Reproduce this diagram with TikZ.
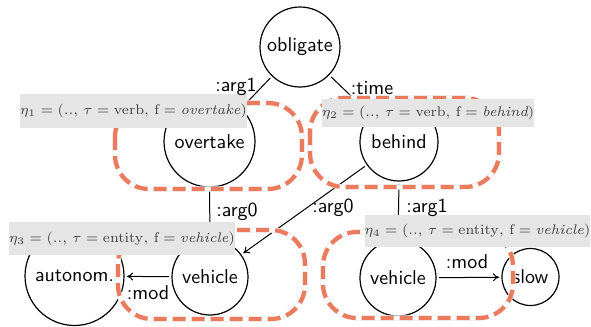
\documentclass[tikz,border=0pt]{standalone}
\usetikzlibrary{arrows.meta}
\definecolor{coral}{RGB}{236,122,92}
\begin{document}
\begin{tikzpicture}[x=0.5pt,y=-0.5pt,
  concept/.style={circle,draw,line width=0.6pt,inner sep=0pt,outer sep=1.5pt,font=\sffamily},
  rel/.style={->,line width=0.5pt,>={To[length=3pt,width=4pt]}},
  elabel/.style={font=\sffamily,inner sep=0pt},
  infobox/.style={fill=black!10,inner sep=0pt,font=\fontsize{7}{8}\selectfont,text=black!75},
  halo/.style={line width=2.7pt,draw=black!8,rounded corners=17pt},
  haloin/.style={line width=2.1pt,draw=white,rounded corners=17pt},
  region/.style={line width=2.1pt,draw=coral,dash pattern=on 6.5pt off 3pt,rounded corners=17pt}]
\useasboundingbox (0,0) rectangle (591,327);
% concept nodes
\node[concept,minimum size=40pt] (obl) at (300,47) {obligate};
\node[concept,minimum size=45.5pt] (ovt) at (209.5,141.5) {overtake};
\node[concept,minimum size=39pt] (beh) at (399,142) {behind};
\node[concept,minimum size=49.5pt] (aut) at (74.5,276) {autonom.};
\node[concept,minimum size=38pt] (vehL) at (210,277) {vehicle};
\node[concept,minimum size=38pt] (vehR) at (398,278) {vehicle};
\node[concept,minimum size=28.5pt] (slow) at (530.5,277) {slow};
% relations
\draw[rel] (obl) -- (ovt);
\draw[rel] (obl) -- (beh);
\draw[rel] (ovt.south) -- (vehL.north);
\draw[rel] (beh) -- (vehL);
\draw[rel] (beh.south) -- (vehR.north);
\draw[rel] (vehL) -- (aut);
\draw[rel] (vehR) -- (slow);
% dashed regions
\foreach \a/\b in {{115,103}/{302,189},{310,98}/{499,187},{118,230}/{305,319},{323,232}/{513,318}}{
  \draw[halo] (\a) rectangle (\b);
  \draw[haloin] (\a) rectangle (\b);
  \draw[region] (\a) rectangle (\b);
}
% info boxes
\node[infobox,minimum width=111.5pt,minimum height=17pt] (e1) at (133.5,111)
  {$\eta_1 = (..,\,\tau = \mathrm{verb},\,\mathrm{f} = \textit{overtake})$};
\node[infobox,minimum width=105pt,minimum height=14pt] (e2) at (428,113)
  {$\eta_2 = (..,\,\tau = \mathrm{verb},\,\mathrm{f} = \textit{behind})$};
\node[infobox,minimum width=111pt,minimum height=16.5pt] (e3) at (122,238.5)
  {$\eta_3 = (..,\,\tau = \mathrm{entity},\,\mathrm{f} = \textit{vehicle})$};
\node[infobox,minimum width=109.5pt,minimum height=16pt] (e4) at (477.5,231)
  {$\eta_4 = (..,\,\tau = \mathrm{entity},\,\mathrm{f} = \textit{vehicle})$};
% edge labels
\node[elabel] (l1) at (236,87) {:arg1};
\node[elabel] (l2) at (372,88) {:time};
\node[elabel] (l3) at (237,212) {:arg0};
\node[elabel] (l4) at (333,208) {:arg0};
\node[elabel] (l5) at (427,208) {:arg1};
\node[elabel] (l6) at (148,293) {:mod};
\node[elabel] (l7) at (467,262) {:mod};
\end{tikzpicture}
\end{document}
